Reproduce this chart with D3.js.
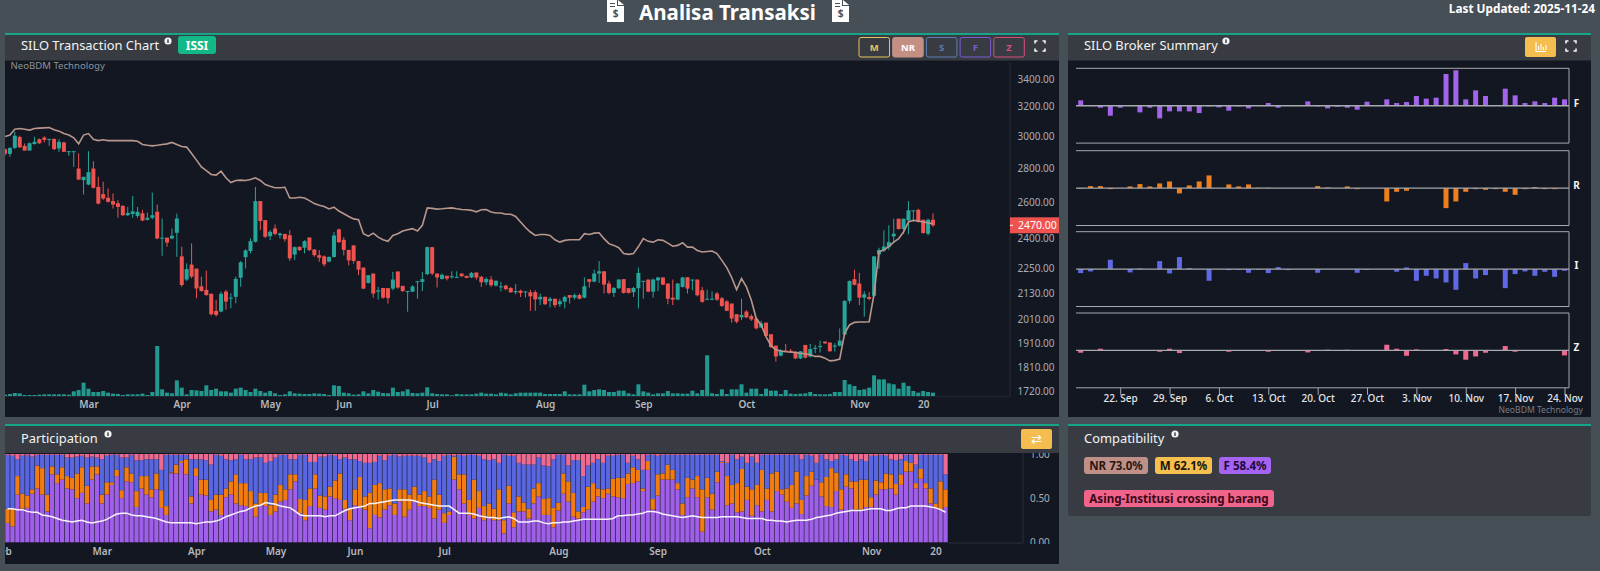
<!DOCTYPE html>
<html><head><meta charset="utf-8">
<script src="https://cdn.jsdelivr.net/npm/d3@7/dist/d3.min.js"></script>
<style>
html,body{margin:0;padding:0;background:#464e56;overflow:hidden}
svg{display:block}
text{font-family:"Noto Sans",sans-serif}
</style></head><body><svg id="c" width="1600" height="571"></svg>
<script>
// Candles: [open, high, low, close]
const candles=[
[2917,2921,2875,2887],[2887,2929,2868,2925],[2925,3030,2917,3004],[2995,3004,2925,2929],[2938,2953,2908,2908],[2908,2960,2908,2955],[2950,2997,2946,2964],[2981,2986,2950,2955],[2992,3000,2960,2977],[2979,2983,2938,2983],
[2983,2986,2911,2917],[2921,2981,2900,2964],[2960,2964,2900,2900],[2900,2904,2875,2904],[2900,2904,2806,2904],[2796,2890,2726,2730],[2726,2746,2642,2746],[2700,2904,2696,2774],[2796,2841,2677,2681],[2686,2746,2585,2590],
[2644,2716,2611,2619],[2623,2677,2596,2600],[2604,2648,2562,2585],[2592,2609,2511,2571],[2577,2581,2521,2525],[2525,2571,2521,2538],[2532,2634,2511,2546],[2521,2571,2511,2544],[2536,2555,2493,2496],[2500,2540,2496,2511],
[2511,2653,2503,2525],[2544,2585,2396,2400],[2400,2507,2311,2404],[2404,2404,2357,2379],[2400,2453,2396,2414],[2430,2534,2306,2507],[2308,2357,2160,2168],[2194,2273,2187,2245],[2267,2374,2200,2208],[2247,2247,2106,2152],
[2162,2208,2137,2140],[2145,2237,2118,2121],[2127,2127,2028,2034],[2049,2098,2024,2031],[2046,2137,2043,2127],[2137,2145,2054,2091],[2106,2129,2061,2109],[2113,2208,2083,2197],[2203,2285,2160,2278],[2304,2345,2248,2338],
[2335,2400,2323,2386],[2383,2686,2379,2604],[2604,2604,2444,2493],[2498,2498,2403,2409],[2412,2444,2391,2435],[2453,2475,2417,2424],[2417,2431,2400,2426],[2424,2424,2383,2396],[2417,2444,2285,2298],[2317,2358,2290,2355],
[2357,2357,2335,2340],[2352,2391,2323,2386],[2405,2405,2335,2340],[2343,2343,2306,2314],[2314,2340,2281,2301],[2308,2313,2258,2268],[2282,2308,2278,2305],[2305,2434,2302,2416],[2448,2452,2376,2381],[2393,2407,2313,2341],
[2341,2341,2263,2288],[2364,2364,2272,2285],[2285,2285,2215,2242],[2252,2252,2148,2151],[2178,2215,2175,2215],[2223,2223,2109,2128],[2137,2159,2100,2143],[2154,2154,2104,2109],[2153,2153,2082,2107],[2151,2231,2143,2194],
[2233,2233,2151,2156],[2164,2164,2135,2140],[2137,2140,2045,2140],[2137,2167,2135,2161],[2183,2186,2104,2186],[2183,2231,2140,2196],[2220,2358,2215,2355],[2355,2355,2215,2223],[2223,2223,2156,2204],[2197,2223,2194,2217],
[2212,2212,2190,2199],[2207,2234,2199,2210],[2204,2234,2201,2207],[2223,2223,2207,2210],[2212,2212,2201,2202],[2204,2231,2201,2226],[2228,2228,2194,2204],[2207,2212,2159,2181],[2181,2204,2167,2197],[2194,2210,2159,2167],
[2165,2190,2162,2188],[2159,2183,2138,2162],[2165,2170,2143,2149],[2154,2159,2131,2134],[2134,2172,2125,2140],[2141,2146,2112,2131],[2135,2138,2109,2138],[2134,2146,2049,2115],[2134,2143,2049,2101],[2101,2128,2075,2113],
[2113,2113,2075,2079],[2094,2112,2064,2104],[2104,2104,2064,2075],[2079,2104,2067,2092],[2091,2118,2060,2112],[2121,2121,2082,2109],[2109,2128,2100,2121],[2121,2128,2101,2104],[2109,2204,2106,2162],[2196,2196,2156,2183],
[2184,2242,2181,2223],[2223,2285,2178,2234],[2234,2234,2128,2170],[2175,2188,2125,2131],[2131,2159,2112,2154],[2153,2196,2149,2194],[2196,2196,2128,2131],[2153,2153,2128,2131],[2134,2159,2112,2154],[2153,2252,2060,2226],
[2184,2188,2104,2188],[2194,2194,2134,2137],[2137,2199,2109,2194],[2190,2207,2140,2204],[2204,2204,2167,2170],[2175,2175,2079,2104],[2109,2194,2075,2100],[2100,2178,2097,2175],[2159,2207,2156,2204],[2205,2205,2128,2151],
[2190,2194,2143,2194],[2194,2194,2115,2120],[2143,2159,2085,2090],[2101,2146,2097,2104],[2101,2138,2097,2104],[2128,2135,2094,2100],[2106,2112,2067,2071],[2092,2097,2049,2049],[2082,2082,1997,2015],[2034,2034,1994,2001],
[2020,2104,2008,2031],[2046,2052,2017,2020],[2026,2034,2005,2011],[2015,2015,1968,1972],[1976,2005,1973,1994],[1997,1997,1937,1940],[1947,1947,1890,1893],[1899,1899,1834,1855],[1858,1885,1855,1879],[1879,1906,1874,1876],
[1878,1885,1868,1871],[1874,1876,1844,1847],[1847,1876,1844,1876],[1902,1902,1847,1850],[1855,1906,1851,1885],[1887,1902,1868,1890],[1894,1920,1871,1898],[1916,1916,1906,1909],[1912,1912,1874,1876],[1896,1909,1875,1899],
[1899,1972,1896,1920],[1945,2097,1942,2094],[2094,2190,2082,2187],[2196,2242,2166,2169],[2175,2226,2075,2109],[2109,2140,2023,2125],[2112,2135,2097,2103],[2118,2308,2112,2308],[2318,2352,2247,2341],[2338,2443,2330,2358],
[2355,2470,2341,2381],[2411,2506,2381,2425],[2506,2506,2448,2450],[2450,2506,2425,2506],[2497,2604,2422,2552],[2548,2552,2488,2552],[2555,2561,2485,2488],[2500,2500,2425,2429],[2425,2506,2417,2500],[2500,2535,2461,2470]];
const nrLine=[2998,3008,3047,3052,3047,3041,3052,3054,3056,3058,3043,3034,3018,3008,2990,2951,3008,3018,2981,2972,2977,2972,2972,2972,2972,2972,2972,2968,2947,2942,2938,2942,2947,2951,2960,2947,2934,2930,2889,2848,2806,2784,2760,2756,2780,2740,2712,2724,2726,2724,2730,2740,2724,2700,2690,2681,2681,2684,2622,2622,2626,2622,2607,2590,2581,
2574,2560,2570,2548,2533,2518,2505,2500,2425,2412,2428,2407,2393,2385,2416,2425,2439,2446,2452,2439,2470,2566,2563,2559,2561,2564,2566,2561,2557,2555,2552,2544,2555,2557,2543,2537,2537,2530,2530,2518,2488,2458,2434,2416,2421,2421,2416,2393,2381,2390,2393,2393,2393,2425,2421,2428,2430,2399,2373,2364,2352,2322,2318,
2322,2358,2399,2385,2381,2393,2390,2376,2360,2364,2378,2355,2355,2338,2330,2333,2335,2322,2288,2252,2204,2146,2199,2159,2097,2015,1987,1937,1899,1882,1877,1874,1873,1871,1868,1866,1862,1855,1855,1848,1837,1839,1844,1951,1987,1998,2000,2000,2001,2128,2330,2341,2358,2381,2399,2434,2488,2497,2493,2488,2484,2478];
const volumes=[4,6,9,8,3,3,3,4,5,5,5,5,5,4,14,18,40,22,12,12,15,10,7,6,3,5,5,5,7,3,12,150,20,10,8,47,25,5,18,17,15,32,18,22,14,14,10,22,25,18,12,22,15,10,15,8,3,5,14,8,7,6,6,8,7,6,3,32,30,10,8,4,5,14,8,18,13,9,8,25,12,14,20,9,8,10,26,8,6,5,5,2,6,5,5,5,7,10,7,7,5,10,8,5,8,10,10,10,10,
10,6,6,6,6,14,5,5,5,34,14,18,20,18,12,12,16,16,8,5,35,14,10,5,8,8,15,8,8,7,7,16,8,18,122,8,6,20,6,20,20,35,10,22,22,6,22,16,16,6,18,7,6,7,8,12,6,5,5,6,12,12,48,35,30,18,20,25,62,50,50,38,35,22,40,30,15,10,15,12,10];
const priceTicks=[3400,3200,3000,2800,2600,2400,2250,2130,2010,1910,1810,1720];
const lastPrice=2470;
const monthIdx=[17,36,54,69,87,110,130,151,174,187];
const monthLabels=["Mar","Apr","May","Jun","Jul","Aug","Sep","Oct","Nov","20"];
// Participation cumulative tops in percent
const partF=[22,18,54,38,39,55,61,54,35,77,67,71,61,60,50,56,44,71,77,44,54,65,75,50,69,68,40,61,54,51,60,39,31,78,78,90,77,44,75,54,53,35,37,31,51,54,44,42,41,39,29,42,41,31,35,46,48,60,69,33,25,41,61,39,37,52,50,48,38,25,42,39,37,16,31,28,37,42,31,46,29,37,46,41,41,39,27,37,22,31,71,60,44,31,27,39,25,29,25,25,10,44,17,35,35,27,44,52,31,31,17,36,55,46,29,27,34,37,46,52,50,55,52,51,50,66,67,69,58,82,37,53,71,71,71,60,31,51,61,51,12,51,37,68,90,42,44,34,35,48,30,42,35,48,35,58,54,46,39,44,32,53,64,71,52,41,40,58,37,63,61,37,37,40,40,54,60,60,61,54,65,80,80,61,72,61,44,39,37,40];
const partR=[38,38,75,55,53,60,87,84,54,86,77,85,75,73,78,85,64,86,86,54,68,68,82,59,85,78,58,75,75,60,78,59,41,79,88,92,94,52,84,71,71,48,54,54,61,69,77,67,67,58,44,56,56,42,54,65,60,77,77,49,48,61,77,53,52,63,70,78,48,39,60,74,52,56,65,67,60,61,44,60,60,54,63,54,58,52,71,54,33,35,97,77,77,48,71,58,41,44,38,60,25,64,34,52,45,38,61,67,49,50,39,45,78,69,56,35,40,63,67,61,60,61,72,73,73,78,85,82,61,92,49,77,78,88,82,67,44,73,71,75,60,73,55,80,91,75,65,67,83,63,60,65,82,61,78,80,60,61,65,80,48,75,80,71,68,74,84,79,60,77,69,69,71,71,51,70,68,78,77,66,77,92,90,67,83,67,61,44,69,60];
const partI=[99,98,94,98,99,97,99,99,99,99,99,99,96,96,97,98,96,97,96,94,98,99,99,96,96,99,93,93,94,94,94,82,99,99,99,99,99,94,94,94,93,88,99,98,94,93,94,99,94,94,96,96,90,92,96,99,99,94,94,99,99,91,91,97,97,99,98,94,96,94,94,92,90,90,91,98,93,98,99,97,98,98,98,98,96,90,94,92,98,99,98,99,98,99,99,98,94,93,94,90,99,98,98,90,88,88,88,96,87,86,94,99,99,87,93,93,75,87,90,94,90,98,98,99,99,90,98,94,82,99,99,98,99,99,99,99,99,99,99,99,99,99,99,99,92,90,99,94,97,90,97,90,99,99,99,99,99,99,99,99,94,99,98,90,99,94,92,94,99,98,94,92,94,92,98,98,99,98,94,93,94,99,99,88,99,99,99,99,99,77];
const partAvg=[38,38,37,37,35,34,34,31,30,29,27,25,24,23,24,25,23,22,23,24,26,29,32,33,33,31,30,30,29,28,27,25,23,22,22,22,22,22,21,22,23,23,24,26,29,31,33,35,36,39,41,42,45,44,43,41,40,39,35,31,30,30,30,30,29,30,30,33,36,38,39,40,41,44,44,45,46,47,48,48,48,48,47,45,44,43,42,41,41,41,37,33,33,33,32,30,29,28,28,27,28,29,27,23,23,23,24,24,22,21,22,22,23,23,24,25,26,26,26,26,26,26,27,30,30,31,31,32,33,35,35,34,32,31,30,29,28,29,30,29,28,28,28,28,29,29,29,29,28,27,27,27,27,25,25,24,24,23,24,25,25,25,26,28,29,30,31,33,34,35,36,36,36,37,38,38,38,36,36,38,39,39,41,41,41,41,40,39,37,34];
const partTicks=[0,0.5,1];
const partIdx=[-1,19,38,54,70,88,111,131,152,174,187];
const partLabels=["Feb","Mar","Apr","May","Jun","Jul","Aug","Sep","Oct","Nov","20"];
// Broker summary
const brokerF=[16,0,-6,-30,-6,0,-20,-6,-38,-17,-17,-17,-22,-2,-5,-15,-2,-8,0,8,-6,0,0,13,-2,-8,-3,-6,-12,12,0,19,8,11,29,21,24,95,106,19,46,29,2,51,31,8,13,8,24,19];
const brokerR=[-2,6,6,-3,0,5,12,5,14,20,-16,8,20,38,0,11,5,11,1,1,0,0,0,0,6,2,0,5,-3,0,0,-40,-11,-8,0,0,0,-60,-40,-11,-3,-5,-3,-11,-20,-3,3,-3,-3,0];
const brokerI=[-12,-7,0,28,0,-10,2,0,24,-13,36,3,0,-35,0,-3,-2,-11,-2,-12,6,-3,0,0,-11,0,0,0,-11,-2,0,0,-8,5,-35,-20,-28,-40,-62,18,-28,-18,0,-57,-15,-7,-20,-8,-23,-5];
const brokerZ=[-7,0,5,0,1,1,1,1,-4,5,-8,1,0,0,0,-4,1,0,0,-4,0,0,0,-6,0,2,0,2,0,0,0,17,5,-16,3,0,0,4,-12,-28,-18,-7,-2,13,-4,0,0,0,0,-15];
const brokerNames=["F","R","I","Z"];
const brokerIdx=[4,9,14,19,24,29,34,39,44,49];
const brokerLabels=["22. Sep","29. Sep","6. Oct","13. Oct","20. Oct","27. Oct","3. Nov","10. Nov","17. Nov","24. Nov"];
const buttons=["M","NR","S","F","Z"];
const scores=["NR 73.0%","M 62.1%","F 58.4%"];
const note="Asing-Institusi crossing barang";

const TEAL="#17a589",PANEL="#383c42",PLOT="#131722",UP="#26a69a",DOWN="#ef5350";
const svg=d3.select("#c");
const defs=svg.append("defs");
function clip(id,x,y,w,h){defs.append("clipPath").attr("id",id).append("rect").attr("x",x).attr("y",y).attr("width",w).attr("height",h);}
clip("cMain",5,60,1005,357);clip("cPart",5,453,1054,111);clip("cPartAxis",1024,453,34,91);

function panel(x,y,w,h,headH){
  svg.append("rect").attr("x",x).attr("y",y).attr("width",w).attr("height",h).attr("rx",3).attr("fill",PANEL);
  svg.append("rect").attr("x",x).attr("y",y).attr("width",w).attr("height",2).attr("fill",TEAL);
  if(headH) svg.append("rect").attr("x",x).attr("y",y+headH).attr("width",w).attr("height",h-headH).attr("fill",PLOT);
}
function title(t,x,y,ix){
  svg.append("text").attr("x",x).attr("y",y).attr("fill","#f2f3f4").attr("font-size",12.9).attr("dominant-baseline","central").text(t);
  svg.append("circle").attr("cx",ix).attr("cy",y-4).attr("r",3.6).attr("fill","#f2f3f4");
  svg.append("rect").attr("x",ix-.7).attr("y",y-5.6).attr("width",1.4).attr("height",3.6).attr("fill","#383c42");
}
function fullscreen(cx,cy){
  const s=5,t=2.5;
  svg.append("path").attr("fill","none").attr("stroke","#f2f3f4").attr("stroke-width",1.6)
   .attr("d",`M${cx-s},${cy-s+t}V${cy-s}H${cx-s+t}M${cx+s-t},${cy-s}H${cx+s}V${cy-s+t}M${cx+s},${cy+s-t}V${cy+s}H${cx+s-t}M${cx-s+t},${cy+s}H${cx-s}V${cy+s-t}`);
}
function docIcon(x){
  svg.append("path").attr("fill","#fff").attr("d",`M${x},0H${x+10}V6H${x+17}V22H${x}Z`);
  svg.append("path").attr("fill","#fff").attr("d",`M${x+11},0L${x+17},5H${x+11}Z`);
  svg.append("path").attr("stroke","#464e56").attr("stroke-width",1).attr("d",`M${x+3},3.5H${x+8}M${x+3},6.5H${x+8}`);
  svg.append("text").attr("x",x+8.5).attr("y",17).attr("text-anchor","middle").attr("fill","#464e56").attr("font-size",10).attr("font-weight",700).text("$");
}

// Page header
svg.append("text").attr("x",727.5).attr("y",12).attr("text-anchor","middle").attr("dominant-baseline","central").attr("fill","#fff").attr("font-size",20.5).attr("font-weight",700).text("Analisa Transaksi");
docIcon(607);docIcon(832);
svg.append("text").attr("x",1595).attr("y",8).attr("text-anchor","end").attr("dominant-baseline","central").attr("fill","#fff").attr("font-size",11.8).attr("font-weight",700).text("Last Updated: 2025-11-24");

// ---- Transaction chart ----
panel(5,33,1054,384,27.5);
title("SILO Transaction Chart",21,45,168);
svg.append("rect").attr("x",178).attr("y",36).attr("width",38).attr("height",18).attr("rx",3).attr("fill","#12b886");
svg.append("text").attr("x",197).attr("y",45.5).attr("text-anchor","middle").attr("dominant-baseline","central").attr("fill","#fff").attr("font-size",12).attr("font-weight",700).text("ISSI");
const btnColors=["#e6c35c","#c49084","#5b7fb5","#7c5cd6","#d94f7a"];
buttons.forEach((b,i)=>{
  const x=859+i*33.7;
  svg.append("rect").attr("x",x).attr("y",37.5).attr("width",30.5).attr("height",19.5).attr("rx",2)
    .attr("fill",b==="NR"?btnColors[i]:"none").attr("stroke",btnColors[i]).attr("stroke-width",1);
  svg.append("text").attr("x",x+15.2).attr("y",47.5).attr("text-anchor","middle").attr("dominant-baseline","central")
    .attr("fill",b==="NR"?"#fff":btnColors[i]).attr("font-size",9.5).attr("font-weight",700).text(b);
});
fullscreen(1040,46);
svg.append("text").attr("x",10.5).attr("y",65).attr("dominant-baseline","central").attr("fill","#8e939a").attr("font-size",9.6).text("NeoBDM Technology");

const x=d3.scalePoint().domain(d3.range(candles.length)).range([5,933]);
const y=d3.scaleLog().domain([3400,1720]).range([79,391]);
const vol=d3.scaleLinear().domain([0,150]).range([396,346]);
const main=svg.append("g").attr("clip-path","url(#cMain)");
main.selectAll(".vol").data(volumes).join("rect").attr("x",(d,i)=>x(i)-2).attr("width",4)
  .attr("y",d=>vol(d)).attr("height",d=>vol(0)-vol(d)).attr("fill",UP).attr("opacity",.9);
main.selectAll(".wick").data(candles).join("line").attr("x1",(d,i)=>x(i)).attr("x2",(d,i)=>x(i))
  .attr("y1",d=>y(d[1])).attr("y2",d=>y(d[2])).attr("stroke",d=>d[3]>=d[0]?UP:DOWN).attr("stroke-width",1);
main.selectAll(".body").data(candles).join("rect").attr("x",(d,i)=>x(i)-2).attr("width",4)
  .attr("y",d=>y(Math.max(d[0],d[3]))).attr("height",d=>Math.max(1,Math.abs(y(d[0])-y(d[3]))))
  .attr("fill",d=>d[3]>=d[0]?UP:DOWN);
main.append("path").datum(nrLine).attr("fill","none").attr("stroke","#b8978c").attr("stroke-width",1.6)
  .attr("d",d3.line().x((d,i)=>x(i)).y(d=>y(d)));
svg.append("line").attr("x1",1010).attr("x2",1010).attr("y1",62).attr("y2",396).attr("stroke","#2b2f39");
svg.append("line").attr("x1",5).attr("x2",1010).attr("y1",396.5).attr("y2",396.5).attr("stroke","#232733");
function styleAxis(g,size,col,weight){
  g.select(".domain").remove();
  g.selectAll("text").attr("fill",col).attr("font-size",size).attr("font-weight",weight||400).attr("font-family",'"Noto Sans",sans-serif');
}
svg.append("g").attr("transform","translate(1010,0)")
  .call(d3.axisRight(y).tickValues(priceTicks).tickFormat(d3.format(".2f")).tickSize(0).tickPadding(7.5))
  .call(g=>styleAxis(g,10,"#a9adb3"));
svg.append("rect").attr("x",1010).attr("y",y(lastPrice)-8).attr("width",49).attr("height",16).attr("fill",DOWN);
svg.append("line").attr("x1",1010).attr("x2",1013).attr("y1",y(lastPrice)).attr("y2",y(lastPrice)).attr("stroke","#fff");
svg.append("text").attr("x",1018).attr("y",y(lastPrice)).attr("dominant-baseline","central").attr("fill","#fff").attr("font-size",10.5).text(d3.format(".2f")(lastPrice));
svg.append("g").attr("transform","translate(0,398)")
  .call(d3.axisBottom(x).tickValues(monthIdx).tickFormat((d,i)=>monthLabels[i]).tickSize(0).tickPadding(3))
  .call(g=>styleAxis(g,10,"#b5b9be",600));

// ---- Broker summary ----
panel(1068,33,523,384,27.5);
title("SILO Broker Summary",1084,45,1226);
svg.append("rect").attr("x",1525).attr("y",37).attr("width",31).attr("height",20).attr("rx",2).attr("fill","#f5bd4f");
svg.append("path").attr("fill","none").attr("stroke","#fff").attr("stroke-width",1.1).attr("d","M1536,42V51.5H1546M1538.5,50V46M1541,50V44M1543.5,50V47M1546,50V45");
fullscreen(1571,46);
const bx=d3.scalePoint().domain(d3.range(brokerF.length)).range([1080.7,1564.5]);
const rows=[{v:brokerF,c:"#a264ea",top:68.3,lab:103},{v:brokerR,c:"#ee7f1c",top:150.7,lab:184.7},{v:brokerI,c:"#5f69e6",top:231.7,lab:265},{v:brokerZ,c:"#ee6a90",top:313,lab:347}];
rows.forEach((r,k)=>{
  const by=d3.scaleLinear().domain([112,-112]).range([r.top,r.top+74.8]);
  const g=svg.append("g");
  g.selectAll("rect").data(r.v).join("rect").attr("x",(d,i)=>bx(i)-2.5).attr("width",5)
    .attr("y",d=>by(Math.max(0,d))).attr("height",d=>Math.abs(by(d)-by(0))).attr("fill",r.c);
  g.append("path").attr("fill","none").attr("stroke","#a6a9ad").attr("stroke-width",1)
    .attr("d",`M1076,${r.top}H1569V${r.top+74.8}H1076`);
  g.append("line").attr("x1",1076).attr("x2",1569).attr("y1",by(0)).attr("y2",by(0)).attr("stroke","#a6a9ad").attr("stroke-width",1.4);
  svg.append("text").attr("x",1576.5).attr("y",r.lab).attr("text-anchor","middle").attr("dominant-baseline","central").attr("fill","#f2f3f4").attr("font-size",10).attr("font-weight",700).text(brokerNames[k]);
});
svg.append("g").attr("transform","translate(0,387.8)")
  .call(d3.axisBottom(bx).tickValues(brokerIdx).tickFormat((d,i)=>brokerLabels[i]).tickSize(7).tickPadding(0))
  .call(g=>{styleAxis(g,10,"#e4e6e8",500);g.selectAll("line").attr("stroke","#a6a9ad");g.selectAll("text").attr("dy","0.9em").attr("y",5);});
svg.append("text").attr("x",1583).attr("y",410).attr("text-anchor","end").attr("dominant-baseline","central").attr("fill","#787d85").attr("font-size",8.6).text("NeoBDM Technology");

// ---- Participation ----
panel(5,424,1054,140,29);
title("Participation",21,438,108);
svg.append("rect").attr("x",1021).attr("y",429).attr("width",31).attr("height",20).attr("rx",2).attr("fill","#f5bd4f");
svg.append("text").attr("x",1036.5).attr("y",439).attr("text-anchor","middle").attr("dominant-baseline","central").attr("fill","#fff").attr("font-size",13).attr("font-family","DejaVu Sans").text("⇄");
const px=d3.scaleBand().domain(d3.range(partF.length)).range([5,948]);
const py=d3.scaleLinear().domain([0,1]).range([542.3,454]);
const pg=svg.append("g").attr("clip-path","url(#cPart)");
const pw=px.bandwidth()-.6;
const stacks=[
 {c:"#a05fe8",lo:()=>0,hi:i=>partF[i]},
 {c:"#f27c0f",lo:i=>partF[i],hi:i=>partR[i]},
 {c:"#5a66e0",lo:i=>partR[i],hi:i=>partI[i]},
 {c:"#ee6a90",lo:i=>partI[i],hi:()=>100}];
stacks.forEach(s=>{
  pg.append("g").selectAll("rect").data(partF).join("rect").attr("x",(d,i)=>px(i)+.3).attr("width",pw)
   .attr("y",(d,i)=>py(s.hi(i)/100)).attr("height",(d,i)=>Math.max(0,py(s.lo(i)/100)-py(s.hi(i)/100))).attr("fill",s.c);
});
pg.append("path").datum(partAvg).attr("fill","none").attr("stroke","#f7f2fb").attr("stroke-width",1.5)
  .attr("d",d3.line().x((d,i)=>px(i)+px.bandwidth()/2).y(d=>py(d/100)));
svg.append("line").attr("x1",1023).attr("x2",1023).attr("y1",453).attr("y2",543).attr("stroke","#2b2f39");
svg.append("line").attr("x1",948).attr("x2",1023).attr("y1",543).attr("y2",543).attr("stroke","#2b2f39");
svg.append("g").attr("clip-path","url(#cPartAxis)").attr("transform","translate(0,0)").append("g").attr("transform","translate(1023,0)")
  .call(d3.axisRight(py).tickValues(partTicks).tickFormat(d3.format(".2f")).tickSize(0).tickPadding(7))
  .call(g=>styleAxis(g,10,"#a9adb3"));
const pxTick=d=>px.step()*(d+.5)+5;
const pAxisScale=d3.scaleLinear().domain([-1,190]).range([pxTick(-1),pxTick(190)]);
svg.append("g").attr("clip-path","url(#cPart)").append("g").attr("transform","translate(0,545)")
  .call(d3.axisBottom(pAxisScale).tickValues(partIdx).tickFormat((d,i)=>partLabels[i]).tickSize(0).tickPadding(3))
  .call(g=>styleAxis(g,10,"#b5b9be",600));

// ---- Compatibility ----
panel(1068,424,523,92,0);
title("Compatibility",1084,438,1175);
const chipStyle=[["#bf9087","#2a1814",1084,64],["#f5c04f","#1c1506",1155,57],["#a463f0","#1e0a3d",1219,52]];
scores.forEach((s,i)=>{
  const c=chipStyle[i];
  svg.append("rect").attr("x",c[2]).attr("y",457).attr("width",c[3]).attr("height",17).attr("rx",3).attr("fill",c[0]);
  svg.append("text").attr("x",c[2]+c[3]/2).attr("y",465.5).attr("text-anchor","middle").attr("dominant-baseline","central").attr("fill",c[1]).attr("font-size",11.6).attr("font-weight",700).text(s);
});
svg.append("rect").attr("x",1084).attr("y",490).attr("width",190).attr("height",17).attr("rx",3).attr("fill","#f0648c");
svg.append("text").attr("x",1179).attr("y",498.5).attr("text-anchor","middle").attr("dominant-baseline","central").attr("fill","#3a0716").attr("font-size",11.6).attr("font-weight",700).text(note);
</script></body></html>
